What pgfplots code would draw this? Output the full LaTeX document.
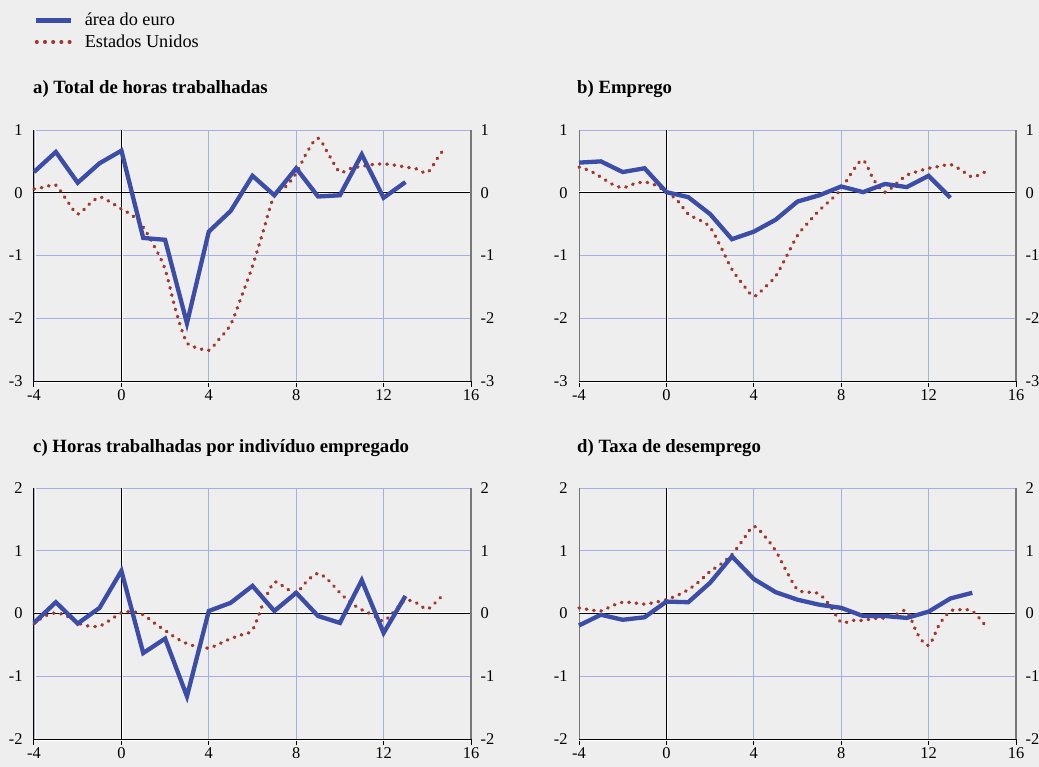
\documentclass[border=0pt]{standalone}
\usepackage{fontspec}
\setmainfont{Liberation Serif}
\usepackage{pgfplots}
\pgfplotsset{compat=1.18}
\definecolor{bg}{RGB}{238,238,238}
\definecolor{eu}{RGB}{59,77,167}
\definecolor{us}{RGB}{160,55,45}
\definecolor{gridc}{RGB}{168,174,226}
\definecolor{rax}{RGB}{120,120,120}

\pgfplotsset{
  eustyle/.style={eu, line width=4.3bp, line join=miter},
  usstyle/.style={us, line width=3.4bp, line cap=round, dash pattern=on 0.6bp off 6.8bp, smooth, tension=0.5},
  base/.style={
    width=437bp, height=251bp, scale only axis,
    xmin=-4, xmax=16,
    clip=false,
    tick label style={font=\fontsize{16.5}{18}\selectfont, text=black},
  },
  panel/.style={
    base,
    axis x line*=bottom, axis y line*=left,
    axis line style={-, line width=1bp},
    x axis line style={black},
    y axis line style={#1},
    xtick={-4,0,4,8,12,16}, xticklabels={-4,0,4,8,12,16},
    xmajorgrids, ymajorgrids,
    grid style={gridc, line width=0.9bp},
    xtick style={black, line width=1bp},
    ytick style={draw=none},
    xtick align=outside, ytick align=inside,
    major tick length=6bp,
    yticklabel style={xshift=-8bp},
    xticklabel style={yshift=1bp},
  },
  rpanel/.style={
    base,
    axis x line=none, axis y line*=right,
    axis line style={-, rax, line width=1.4bp},
    ytick style={draw=none},
    ytick align=inside,
    yticklabel style={xshift=6bp},
  },
}

\begin{document}
\begin{tikzpicture}
\useasboundingbox (0bp,0bp) rectangle (1039bp,-767bp);
\fill[bg] (0bp,0bp) rectangle (1039bp,-767bp);

% titles
\node[anchor=west, inner sep=0pt, font=\bfseries\fontsize{18.8}{21}\selectfont] at (33bp,-89bp) {a) Total de horas trabalhadas};
\node[anchor=west, inner sep=0pt, font=\bfseries\fontsize{18.8}{21}\selectfont] at (577bp,-89bp) {b) Emprego};
\node[anchor=west, inner sep=0pt, font=\bfseries\fontsize{18.8}{21}\selectfont] at (33bp,-448bp) {c) Horas trabalhadas por indivíduo empregado};
\node[anchor=west, inner sep=0pt, font=\bfseries\fontsize{18.8}{21}\selectfont] at (577bp,-448bp) {d) Taxa de desemprego};

% ---------- panel a ----------
\begin{axis}[panel=black, at={(34bp,-130bp)}, anchor=north west,
  ymin=-3, ymax=1, ytick={-3,-2,-1,0,1}, yticklabels={-3,-2,-1,0,1},
  legend style={at={(0,1.474)}, anchor=north west, draw=none, fill=none,
    font=\fontsize{18.3}{21}\selectfont, legend cell align=left, row sep=3.5bp,
    inner sep=0pt},
  legend image code/.code={\draw[#1] (0bp,0bp) -- (35bp,0bp); \path (44bp,0bp);},
]
\addlegendimage{eu, line width=4.6bp}
\addlegendentry{área do euro}
\addlegendimage{us, line width=3.4bp, line cap=round, dash pattern=on 0.6bp off 7.6bp}
\addlegendentry{Estados Unidos}
\addplot[white, line width=1bp, forget plot] coordinates {(-4,-3.016) (16,-3.016)};
\addplot[white, line width=1bp, forget plot] coordinates {(-3.954,-3) (-3.954,1)};
\addplot[white, line width=1bp, forget plot] coordinates {(0.046,-3) (0.046,1)};
\addplot[white, line width=1bp, forget plot] coordinates {(-4,0.016) (16,0.016)};
\addplot[black, line width=1bp, forget plot] coordinates {(0,-3) (0,1)};
\addplot[black, line width=1bp, forget plot] coordinates {(-4,0) (16,0)};
\addplot[usstyle, forget plot] coordinates {(-4,0.06)(-3.5,0.09)(-3,0.12)(-2.5,-0.12)(-2,-0.34)(-1.5,-0.19)(-1,-0.07)(-0.5,-0.15)(0,-0.26)(0.5,-0.36)(1,-0.55)(1.5,-0.85)(2,-1.22)(2.5,-1.89)(3,-2.39)(3.5,-2.47)(4,-2.51)(4.5,-2.32)(5,-2.10)(5.5,-1.65)(6,-1.17)(6.5,-0.60)(7,-0.04)(7.5,0.09)(8,0.31)(8.5,0.65)(9,0.87)(9.5,0.60)(10,0.33)(10.5,0.39)(11,0.42)(11.5,0.45)(12,0.46)(12.5,0.44)(13,0.41)(13.5,0.38)(14,0.32)(14.5,0.57)(14.8,0.71)};
\addplot[eustyle, forget plot] coordinates {(-4,0.33)(-3,0.65)(-2,0.16)(-1,0.47)(0,0.67)(1,-0.72)(2,-0.75)(3,-2.08)(4,-0.62)(5,-0.29)(6,0.27)(7,-0.04)(8,0.39)(9,-0.06)(10,-0.04)(11,0.61)(12,-0.08)(13,0.17)};
\end{axis}
\begin{axis}[rpanel, at={(34bp,-130bp)}, anchor=north west,
  ymin=-3, ymax=1, ytick={-3,-2,-1,0,1}, yticklabels={-3,-2,-1,0,1}]
\end{axis}

% ---------- panel b ----------
\begin{axis}[panel=rax, at={(579bp,-130bp)}, anchor=north west,
  ymin=-3, ymax=1, ytick={-3,-2,-1,0,1}, yticklabels={-3,-2,-1,0,1}]
\addplot[white, line width=1bp] coordinates {(-4,-3.016) (16,-3.016)};
\addplot[white, line width=1bp] coordinates {(0.046,-3) (0.046,1)};
\addplot[white, line width=1bp] coordinates {(-4,0.016) (16,0.016)};
\addplot[black, line width=1bp] coordinates {(0,-3) (0,1)};
\addplot[black, line width=1bp] coordinates {(-4,0) (16,0)};
\addplot[usstyle] coordinates {(-4,0.41)(-3.5,0.35)(-3,0.25)(-2.5,0.14)(-2,0.08)(-1.5,0.14)(-1,0.17)(-0.5,0.12)(0,0.01)(0.5,-0.12)(1,-0.34)(1.5,-0.43)(2,-0.55)(2.5,-0.87)(3,-1.22)(3.5,-1.46)(4,-1.65)(4.5,-1.51)(5,-1.33)(5.5,-1.01)(6,-0.68)(6.5,-0.47)(7,-0.28)(7.5,-0.12)(8,0.06)(8.5,0.33)(9,0.52)(9.5,0.20)(10,0.01)(10.5,0.14)(11,0.28)(11.5,0.34)(12,0.39)(12.5,0.42)(13,0.45)(13.5,0.36)(14,0.25)(14.5,0.32)(14.7,0.34)};
\addplot[eustyle] coordinates {(-4,0.48)(-3,0.50)(-2,0.33)(-1,0.39)(0,0.01)(1,-0.07)(2,-0.34)(3,-0.74)(4,-0.62)(5,-0.43)(6,-0.14)(7,-0.04)(8,0.10)(9,0.01)(10,0.14)(11,0.09)(12,0.27)(13,-0.08)};
\end{axis}
\begin{axis}[rpanel, at={(579bp,-130bp)}, anchor=north west,
  ymin=-3, ymax=1, ytick={-3,-2,-1,0,1}, yticklabels={-3,-2,-1,0,1}]
\end{axis}

% ---------- panel c ----------
\begin{axis}[panel=black, at={(34bp,-488bp)}, anchor=north west,
  ymin=-2, ymax=2, ytick={-2,-1,0,1,2}, yticklabels={-2,-1,0,1,2}]
\addplot[white, line width=1bp] coordinates {(-4,-2.016) (16,-2.016)};
\addplot[white, line width=1bp] coordinates {(-3.954,-2) (-3.954,2)};
\addplot[white, line width=1bp] coordinates {(0.046,-2) (0.046,2)};
\addplot[white, line width=1bp] coordinates {(-4,0.016) (16,0.016)};
\addplot[black, line width=1bp] coordinates {(0,-2) (0,2)};
\addplot[black, line width=1bp] coordinates {(-4,0) (16,0)};
\addplot[usstyle] coordinates {(-4,-0.16)(-3.5,-0.04)(-3,0.01)(-2.5,-0.04)(-2,-0.15)(-1.5,-0.20)(-1,-0.20)(-0.5,-0.10)(0,0.01)(0.5,0.03)(1,-0.02)(1.5,-0.15)(2,-0.27)(2.5,-0.39)(3,-0.48)(3.5,-0.53)(4,-0.55)(4.5,-0.48)(5,-0.40)(5.5,-0.34)(6,-0.26)(6.5,0.17)(7,0.50)(7.5,0.41)(8,0.33)(8.5,0.52)(9,0.64)(9.5,0.52)(10,0.33)(10.5,0.17)(11,0.06)(11.5,-0.02)(12,-0.12)(12.5,0.04)(13,0.21)(13.5,0.17)(14,0.07)(14.5,0.22)(14.8,0.33)};
\addplot[eustyle] coordinates {(-4,-0.15)(-3,0.18)(-2,-0.16)(-1,0.09)(0,0.68)(1,-0.63)(2,-0.40)(3,-1.32)(4,0.04)(5,0.17)(6,0.44)(7,0.04)(8,0.33)(9,-0.04)(10,-0.15)(11,0.53)(12,-0.31)(13,0.28)};
\end{axis}
\begin{axis}[rpanel, at={(34bp,-488bp)}, anchor=north west,
  ymin=-2, ymax=2, ytick={-2,-1,0,1,2}, yticklabels={-2,-1,0,1,2}]
\end{axis}

% ---------- panel d ----------
\begin{axis}[panel=rax, at={(579bp,-488bp)}, anchor=north west,
  ymin=-2, ymax=2, ytick={-2,-1,0,1,2}, yticklabels={-2,-1,0,1,2}]
\addplot[white, line width=1bp] coordinates {(-4,-2.016) (16,-2.016)};
\addplot[white, line width=1bp] coordinates {(0.046,-2) (0.046,2)};
\addplot[white, line width=1bp] coordinates {(-4,0.016) (16,0.016)};
\addplot[black, line width=1bp] coordinates {(0,-2) (0,2)};
\addplot[black, line width=1bp] coordinates {(-4,0) (16,0)};
\addplot[usstyle] coordinates {(-4,0.09)(-3.5,0.06)(-3,0.04)(-2.5,0.12)(-2,0.18)(-1.5,0.17)(-1,0.15)(-0.5,0.18)(0,0.22)(0.5,0.29)(1,0.38)(1.5,0.51)(2,0.67)(2.5,0.79)(3,0.94)(3.5,1.17)(4,1.39)(4.5,1.23)(5,1.00)(5.5,0.67)(6,0.38)(6.5,0.34)(7,0.31)(7.5,0.12)(8,-0.14)(8.5,-0.11)(9,-0.11)(9.5,-0.08)(10,-0.07)(10.5,-0.02)(11,0.04)(11.5,-0.33)(12,-0.51)(12.5,-0.17)(13,0.04)(13.5,0.06)(14,0.04)(14.5,-0.15)(14.7,-0.24)};
\addplot[eustyle] coordinates {(-4,-0.19)(-3,-0.02)(-2,-0.10)(-1,-0.06)(0,0.19)(1,0.18)(2,0.49)(3,0.91)(4,0.55)(5,0.34)(6,0.22)(7,0.14)(8,0.09)(9,-0.04)(10,-0.04)(11,-0.07)(12,0.03)(13,0.24)(14,0.33)};
\end{axis}
\begin{axis}[rpanel, at={(579bp,-488bp)}, anchor=north west,
  ymin=-2, ymax=2, ytick={-2,-1,0,1,2}, yticklabels={-2,-1,0,1,2}]
\end{axis}
\end{tikzpicture}
\end{document}
